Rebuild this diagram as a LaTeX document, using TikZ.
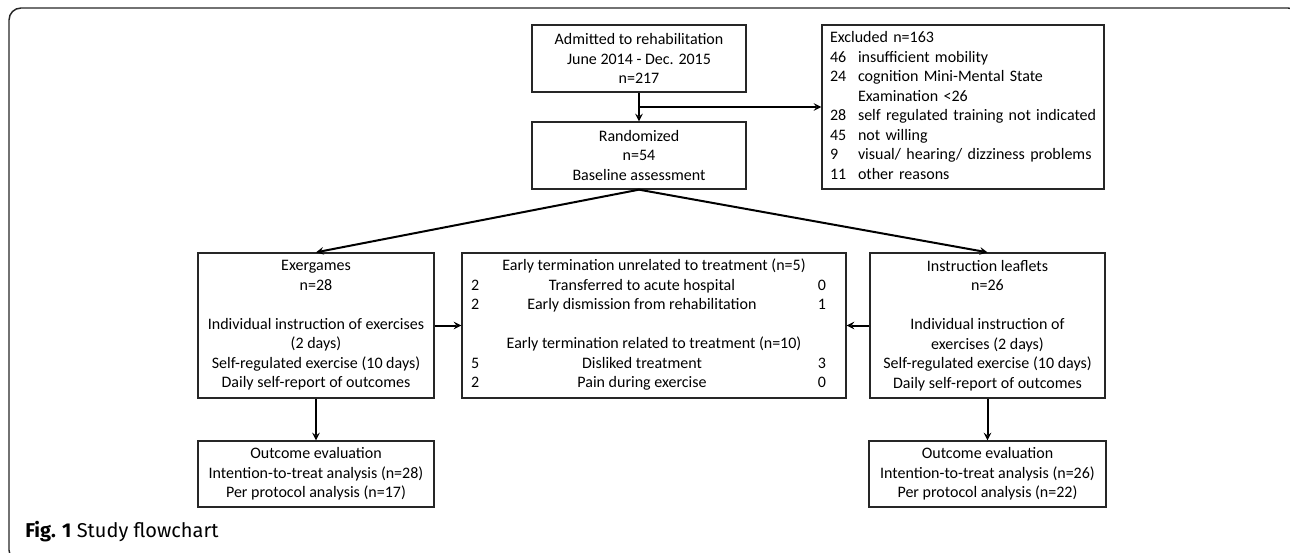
\documentclass[tikz,border=0pt]{standalone}
\usepackage{fontspec}
\usepackage{array}
\setmainfont{Carlito}
\newfontfamily\capfont{Fira Sans}
\setlength\tabcolsep{0pt}

\begin{document}
\begin{tikzpicture}[x=0.75pt,y=-0.75pt,
    box/.style={draw=black!85, line width=1pt, align=center, inner sep=0pt, font=\fontsize{12}{14.6}\selectfont},
    link/.style={line width=1.5pt, ->, >=stealth}]
  \useasboundingbox (0,0) rectangle (1290,553);
  \clip (0,0) rectangle (1290,553);
  % frame
  \draw[black!85, line width=1.1pt, rounded corners=9pt] (9,8) rectangle (1300,562);
  % top row
  \node[box, minimum width=160.5pt, minimum height=50.25pt] (adm) at (639,58.5)
    {Admitted to rehabilitation\\June 2014 - Dec. 2015\\n=217};
  \node[box, minimum width=160.5pt, minimum height=50.25pt] (rnd) at (639,155.5)
    {Randomized\\n=54\\Baseline assessment};
  \node[box, align=left, text width=199.5pt, minimum width=211.5pt, minimum height=123pt] (exc) at (963,107)
    {\begin{tabular}{@{}p{21pt}l@{}}
      \multicolumn{2}{@{}l@{}}{Excluded n=163}\\
      46 & insufficient mobility\\
      24 & cognition Mini-Mental State\\
         & Examination <26\\
      28 & self regulated training not indicated\\
      45 & not willing\\
      9  & visual/ hearing/ dizziness problems\\
      11 & other reasons
    \end{tabular}};
  % groups
  \node[box, minimum width=177pt, minimum height=108.75pt] (exg) at (316,325.5)
    {Exergames\\n=28\\[14.6pt]Individual instruction of exercises\\(2 days)\\Self-regulated exercise (10 days)\\Daily self-report of outcomes};
  \node[box, minimum width=288pt, minimum height=108.75pt] (mid) at (654,325.5)
    {\begin{tabular}{@{}>{\raggedright\arraybackslash}p{21.75pt}>{\centering\arraybackslash}p{213pt}>{\raggedleft\arraybackslash}p{31.5pt}@{\hspace{8.25pt}}}
      \multicolumn{3}{c}{Early termination unrelated to treatment (n=5)}\\
      2 & Transferred to acute hospital & 0\\
      2 & Early dismission from rehabilitation & 1\\
        & & \\
      \multicolumn{3}{c}{Early termination related to treatment (n=10)}\\
      5 & Disliked treatment & 3\\
      2 & Pain during exercise & 0
    \end{tabular}};
  \node[box, minimum width=176.25pt, minimum height=108.75pt] (ins) at (987.5,325.5)
    {Instruction leaflets\\n=26\\[14.6pt]Individual instruction of\\exercises (2 days)\\Self-regulated exercise (10 days)\\Daily self-report of outcomes};
  % outcomes
  \node[box, minimum width=177pt, minimum height=49.5pt] (outl) at (316,474)
    {Outcome evaluation\\Intention-to-treat analysis (n=28)\\Per protocol analysis (n=17)};
  \node[box, minimum width=177.75pt, minimum height=49.5pt] (outr) at (987.5,474)
    {Outcome evaluation\\Intention-to-treat analysis (n=26)\\Per protocol analysis (n=22)};
  % connectors
  \draw[link] (adm) -- (rnd);
  \draw[link] (adm.south |- exc.west) -- (exc.west);
  \draw[link] (rnd.south) -- (exg.north);
  \draw[link] (rnd.south) -- (ins.north);
  \draw[link] (exg) -- (mid);
  \draw[link] (ins) -- (mid);
  \draw[link] (exg) -- (outl);
  \draw[link] (ins) -- (outr);
  % caption
  \node[anchor=base west, inner sep=0pt, font=\capfont\fontsize{15}{18}\selectfont] (cap) at (25,537)
    {\textbf{Fig. 1} Study flowchart};
\end{tikzpicture}
\end{document}
